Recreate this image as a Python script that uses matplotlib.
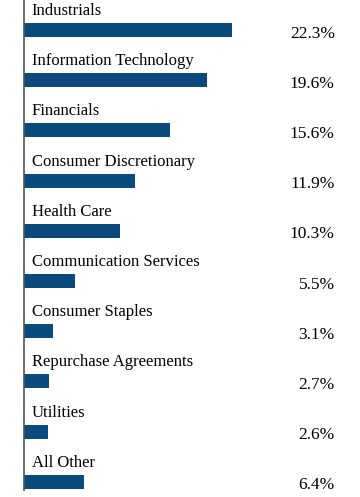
import matplotlib
matplotlib.use("Agg")
import matplotlib.pyplot as plt

BLUE = "#0B4A7D"

sectors = ["Industrials", "Information Technology", "Financials",
           "Consumer Discretionary", "Health Care", "Communication Services",
           "Consumer Staples", "Repurchase Agreements", "Utilities", "All Other"]
values = [22.3, 19.6, 15.6, 11.9, 10.3, 5.5, 3.1, 2.7, 2.6, 6.4]
value_labels = ["22.3%", "19.6%", "15.6%", "11.9%", "10.3%",
                "5.5%", "3.1%", "2.7%", "2.6%", "6.4%"]

plt.rcParams["font.family"] = ["Liberation Serif", "DejaVu Serif"]

fig = plt.figure(figsize=(3.6, 4.97), dpi=100)
ax = fig.add_axes([24 / 360, 7 / 497, 336 / 360, 490 / 497])

pos = list(range(len(sectors)))
ax.barh(pos, values, height=0.28, color=BLUE, align="center")

for i, (name, lab) in enumerate(zip(sectors, value_labels)):
    ax.text(0.84, i - 0.38, name, ha="left", va="center", fontsize=12,
            color="black")
    ax.text(33.3, i + 0.07, lab, ha="right", va="center", fontsize=12.5,
            color="black")

ax.set_xlim(0, 36)
ax.set_ylim(9.163, -0.598)
for s in ["top", "right", "bottom"]:
    ax.spines[s].set_visible(False)
ax.spines["left"].set_color("#555555")
ax.spines["left"].set_linewidth(1.2)
ax.set_xticks([])
ax.set_yticks([])

fig.savefig("out.png", dpi=100)
